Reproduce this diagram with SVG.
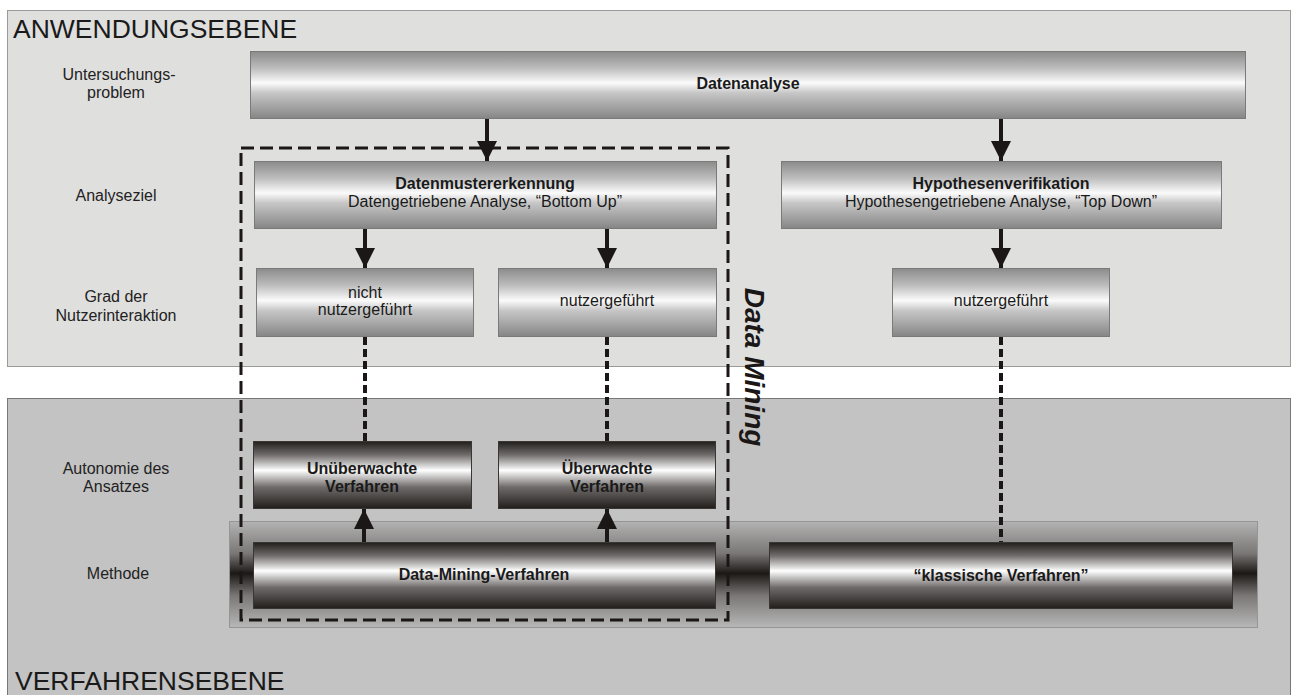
<svg xmlns="http://www.w3.org/2000/svg" width="1293" height="695" viewBox="0 0 1293 695">
<style>
.lbl{font-family:"Liberation Sans",Arial,sans-serif;font-size:16px;fill:#222;text-anchor:middle}
.t{font-family:"Liberation Sans",Arial,sans-serif;font-size:16px;fill:#1a1a1a;text-anchor:middle}
.b{font-weight:bold}
.hdr{font-family:"Liberation Sans",Arial,sans-serif;font-size:26.5px;fill:#1a1a1a}
.up{fill:url(#gUp);stroke:#7a7a7a;stroke-width:1}
.dn{fill:url(#gDn);stroke:#3a3634;stroke-width:1}
.arr{stroke:#1a1716;stroke-width:4;fill:none}
.dash{stroke:#1a1716;stroke-width:4;stroke-dasharray:8 4;fill:none}
</style>
<defs>
<linearGradient id="gUp" x1="0" y1="0" x2="0" y2="1">
<stop offset="0" stop-color="#8b8b8b"/>
<stop offset="0.25" stop-color="#bdbdbd"/>
<stop offset="0.47" stop-color="#fbfbfb"/>
<stop offset="0.62" stop-color="#c6c6c6"/>
<stop offset="1" stop-color="#858585"/>
</linearGradient>
<linearGradient id="gDn" x1="0" y1="0" x2="0" y2="1">
<stop offset="0" stop-color="#221e1c"/>
<stop offset="0.2" stop-color="#706c6b"/>
<stop offset="0.43" stop-color="#ffffff"/>
<stop offset="0.68" stop-color="#6f6b6a"/>
<stop offset="1" stop-color="#221e1c"/>
</linearGradient>
<linearGradient id="gBand" x1="0" y1="0" x2="0" y2="1">
<stop offset="0" stop-color="#b3b3b3"/>
<stop offset="0.3" stop-color="#7a7776"/>
<stop offset="0.49" stop-color="#1c1816"/>
<stop offset="0.7" stop-color="#7a7776"/>
<stop offset="1" stop-color="#b8b8b8"/>
</linearGradient>
<marker id="ah" viewBox="0 0 20 20" refX="20" refY="10" markerWidth="20" markerHeight="20" markerUnits="userSpaceOnUse" orient="auto">
<path d="M0,0 L20,10 L0,20 Z" fill="#1a1716"/>
</marker>
</defs>

<g id="panels">
<rect x="7.5" y="10.5" width="1283" height="356" fill="#dfdfde" stroke="#9a9a9a" stroke-width="1"/>
<rect x="7.5" y="398.5" width="1283" height="300" fill="#c3c3c3" stroke="#777" stroke-width="1"/>
<rect x="229.5" y="521.5" width="1028" height="106" fill="url(#gBand)" stroke="#959595" stroke-width="1"/>
<text class="hdr" x="13" y="38">ANWENDUNGSEBENE</text>
<text class="hdr" x="15" y="690">VERFAHRENSEBENE</text>
</g>

<g id="row-labels">
<text class="lbl" x="119" y="80">Untersuchungs-</text>
<text class="lbl" x="116" y="98">problem</text>
<text class="lbl" x="116" y="201">Analyseziel</text>
<text class="lbl" x="116" y="302">Grad der</text>
<text class="lbl" x="116" y="321">Nutzerinteraktion</text>
<text class="lbl" x="116" y="474">Autonomie des</text>
<text class="lbl" x="116" y="492">Ansatzes</text>
<text class="lbl" x="118" y="579">Methode</text>
</g>

<g id="n-datenanalyse">
<rect class="up" x="250.5" y="51.5" width="995" height="67"/>
<text class="t b" x="748" y="89">Datenanalyse</text>
</g>
<g id="n-datenmuster">
<rect class="up" x="254.5" y="161.5" width="462" height="67"/>
<text class="t b" x="485" y="189">Datenmustererkennung</text>
<text class="t" x="485" y="207">Datengetriebene Analyse, “Bottom Up”</text>
</g>
<g id="n-hypothesen">
<rect class="up" x="781.5" y="161.5" width="440" height="67"/>
<text class="t b" x="1001" y="189">Hypothesenverifikation</text>
<text class="t" x="1001" y="207">Hypothesengetriebene Analyse, “Top Down”</text>
</g>
<g id="n-nicht-nutzer">
<rect class="up" x="256.5" y="268.5" width="217" height="68"/>
<text class="t" x="365" y="298">nicht</text>
<text class="t" x="365" y="315">nutzergeführt</text>
</g>
<g id="n-nutzer1">
<rect class="up" x="498.5" y="268.5" width="218" height="68"/>
<text class="t" x="607" y="306">nutzergeführt</text>
</g>
<g id="n-nutzer2">
<rect class="up" x="892.5" y="268.5" width="217" height="68"/>
<text class="t" x="1001" y="306">nutzergeführt</text>
</g>
<g id="n-unueberwacht">
<rect class="dn" x="253.5" y="441.5" width="218" height="67"/>
<text class="t b" x="362" y="474">Unüberwachte</text>
<text class="t b" x="362" y="492">Verfahren</text>
</g>
<g id="n-ueberwacht">
<rect class="dn" x="498.5" y="441.5" width="217" height="67"/>
<text class="t b" x="607" y="474">Überwachte</text>
<text class="t b" x="607" y="492">Verfahren</text>
</g>
<g id="n-dm-verfahren">
<rect class="dn" x="253.5" y="542.5" width="462" height="66"/>
<text class="t b" x="484" y="580">Data-Mining-Verfahren</text>
</g>
<g id="n-klassisch">
<rect class="dn" x="769.5" y="542.5" width="463" height="66"/>
<text class="t b" x="1001" y="581">“klassische Verfahren”</text>
</g>

<g id="connectors">
<line class="arr" x1="487" y1="119" x2="487" y2="161" marker-end="url(#ah)"/>
<line class="arr" x1="1001" y1="119" x2="1001" y2="161" marker-end="url(#ah)"/>
<line class="arr" x1="365" y1="229" x2="365" y2="268" marker-end="url(#ah)"/>
<line class="arr" x1="607" y1="229" x2="607" y2="268" marker-end="url(#ah)"/>
<line class="arr" x1="1001" y1="229" x2="1001" y2="268" marker-end="url(#ah)"/>
<line class="arr" x1="364" y1="542" x2="364" y2="509" marker-end="url(#ah)"/>
<line class="arr" x1="607" y1="542" x2="607" y2="509" marker-end="url(#ah)"/>
<line class="dash" x1="365" y1="337" x2="365" y2="441"/>
<line class="dash" x1="607" y1="337" x2="607" y2="441"/>
<line class="dash" x1="1001" y1="337" x2="1001" y2="542"/>
</g>

<g id="data-mining-group">
<rect x="241" y="148" width="487" height="472" fill="none" stroke="#1a1716" stroke-width="3" stroke-dasharray="13 6"/>
<text transform="translate(745 367) rotate(90)" font-family="'Liberation Sans',Arial,sans-serif" font-size="28" font-weight="bold" font-style="italic" fill="#1a1716" text-anchor="middle">Data Mining</text>
</g>
</svg>
